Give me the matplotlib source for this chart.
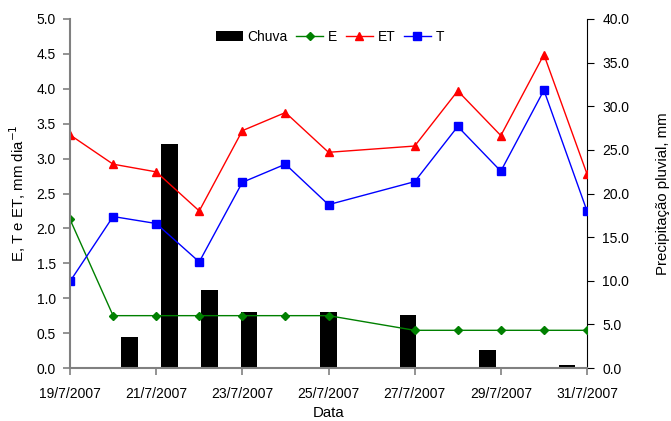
import matplotlib
matplotlib.use("Agg")
import matplotlib.pyplot as plt
import pandas as pd
import numpy as np

plt.rcParams['font.family'] = ['Liberation Sans', 'DejaVu Sans']

# Line series dates and values
line_dates = ["2007-07-19", "2007-07-20", "2007-07-21", "2007-07-22", "2007-07-23", "2007-07-24",
              "2007-07-25", "2007-07-27", "2007-07-28", "2007-07-29", "2007-07-30", "2007-07-31"]
E = [2.13, 0.75, 0.75, 0.75, 0.75, 0.75, 0.75, 0.54, 0.54, 0.54, 0.54, 0.54]
ET = [3.34, 2.92, 2.81, 2.25, 3.40, 3.66, 3.09, 3.18, 3.97, 3.33, 4.49, 2.78]
T = [1.24, 2.17, 2.07, 1.52, 2.66, 2.92, 2.34, 2.67, 3.46, 2.82, 3.98, 2.25]

# Rain (categorical, one per day 19/7 .. 31/7)
rain_days = ["19/7", "20/7", "21/7", "22/7", "23/7", "24/7", "25/7",
             "26/7", "27/7", "28/7", "29/7", "30/7", "31/7"]
chuva = [0, 3.6, 25.7, 8.9, 6.4, 0, 6.4, 0, 6.1, 0, 2.1, 0, 0.3]

tick_labels = ["19/7/2007", "21/7/2007", "23/7/2007", "25/7/2007",
               "27/7/2007", "29/7/2007", "31/7/2007"]

start = pd.Timestamp("2007-07-19")
xd = [(pd.Timestamp(d) - start).days for d in line_dates]

W, H = 671, 421
fig = plt.figure(figsize=(W / 100, H / 100), dpi=100)
rect = [70 / W, 1 - 368 / H, (587 - 70) / W, (368 - 19) / H]

gray = "#808080"
fs = 10
lfs = 10.8

# Bars axes (behind), right y-axis
axb = fig.add_axes(rect)
xb = np.arange(len(chuva))
bars = axb.bar(xb, chuva, width=0.42, color="black", label="Chuva", zorder=2)
axb.set_xlim(-0.5, len(chuva) - 0.5)
axb.set_ylim(0, 40)
axb.set_yticks(np.arange(0, 40.1, 5))
axb.set_yticklabels([f"{v:.1f}" for v in np.arange(0, 40.1, 5)], fontsize=fs)
axb.yaxis.tick_right()
axb.yaxis.set_label_position("right")
axb.set_ylabel("Precipitação pluvial, mm", fontsize=lfs, labelpad=19)
axb.xaxis.set_visible(False)
for s in ["top", "left", "bottom"]:
    axb.spines[s].set_visible(False)
axb.spines["right"].set_color("black")
axb.tick_params(axis="y", direction="out", length=5, color="black", pad=6)

# Lines axes (front)
ax = fig.add_axes(rect)
ax.patch.set_visible(False)
lE, = ax.plot(xd, E, color="#008000", marker="D", markersize=4, lw=1, label="E")
lET, = ax.plot(xd, ET, color="#FF0000", marker="^", markersize=6, lw=1, label="ET")
lT, = ax.plot(xd, T, color="#0000FF", marker="s", markersize=5.5, lw=1, label="T")
ax.set_xlim(0, 12)
ax.set_ylim(0, 5)
ax.set_yticks(np.arange(0, 5.01, 0.5))
ax.set_yticklabels([f"{v:.1f}" for v in np.arange(0, 5.01, 0.5)], fontsize=fs)
ax.set_xticks(np.arange(0, 13, 2))
ax.set_xticklabels(tick_labels, fontsize=fs)
for s in ["top", "right"]:
    ax.spines[s].set_visible(False)
ax.spines["left"].set_color(gray)
ax.spines["bottom"].set_color(gray)
ax.spines["left"].set_linewidth(1.5)
ax.spines["bottom"].set_linewidth(1.5)
ax.tick_params(axis="both", direction="out", length=5, color=gray, width=1.2)
ax.tick_params(axis="x", pad=9)
ax.tick_params(axis="y", pad=5)
ax.set_ylabel("E, T e ET, mm dia$^{-1}$", fontsize=lfs, labelpad=6)
ax.set_xlabel("Data", fontsize=lfs, labelpad=3)

ax.legend([bars, lE, lET, lT], ["Chuva", "E", "ET", "T"], ncol=4, frameon=False,
          fontsize=fs, loc="center", bbox_to_anchor=(330 / W, 1 - 37 / H),
          bbox_transform=fig.transFigure, handlelength=1.95, handletextpad=0.35,
          columnspacing=0.6)

fig.savefig("out.png", dpi=100)
